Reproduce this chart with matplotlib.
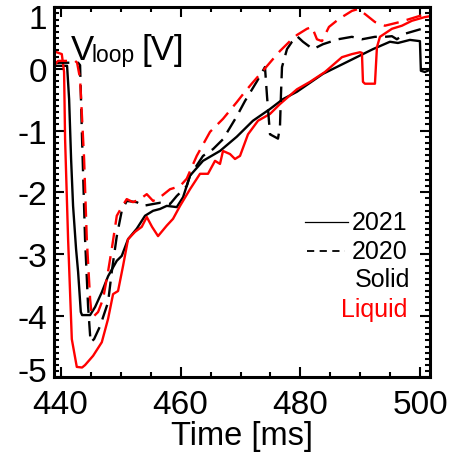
import matplotlib
matplotlib.use("Agg")
import matplotlib.pyplot as plt
from matplotlib.transforms import ScaledTranslation
from matplotlib.ticker import MultipleLocator

plt.rcParams['font.family'] = ['Liberation Sans', 'DejaVu Sans']
plt.rcParams['axes.unicode_minus'] = False

# ---- data ----
t_liq21 = [438.75, 440.2, 440.58, 440.75, 441.25, 441.87, 442.7, 443.58, 444.08, 445.42,
           446.87, 447.92, 448.75, 449.58, 450.42, 451.25, 452.42, 453.53, 454.37, 455.25,
           456.25, 457.7, 458.75, 459.92, 461.58, 463.25, 464.58, 465.75, 466.58, 467.08,
           468.25, 469.08, 469.92, 471.25, 472.92, 474.92, 476.58, 479.42, 481.58, 484.08,
           486.92, 488.58, 489.92, 490.25, 490.42, 490.75, 492.42, 492.75, 493.25, 495.25,
           496.92, 498.58, 500.75, 501.92]
v_liq21 = [0.29, 0.24, -0.05, -1.14, -2.76, -4.38, -4.83, -4.84, -4.8, -4.65,
           -4.43, -4.05, -3.65, -3.6, -3.19, -2.76, -2.64, -2.56, -2.4, -2.56,
           -2.71, -2.54, -2.43, -2.22, -1.95, -1.7, -1.7, -1.49, -1.54, -1.33,
           -1.38, -1.46, -1.41, -1.06, -0.84, -0.73, -0.57, -0.33, -0.21, -0.05,
           0.19, 0.24, 0.27, 0.26, -0.21, -0.24, -0.24, 0.35, 0.52, 0.65,
           0.7, 0.78, 0.84, 0.86]

t_sol21 = [438.9, 441.08, 441.42, 441.75, 442.08, 442.58, 442.92, 443.37, 443.58, 444.92,
           445.75, 446.87, 447.92, 449.37, 450.2, 451.25, 452.7, 454.08, 455.42, 456.58,
           457.7, 459.37, 460.42, 461.58, 463.75, 466.58, 469.37, 472.08, 474.92, 477.08,
           479.42, 483.75, 489.37, 492.08, 494.92, 496.25, 498.25, 499.92, 500.08, 500.75,
           501.92]
v_sol21 = [0.05, 0.05, -0.49, -1.46, -2.22, -2.92, -3.29, -3.94, -3.99, -3.99,
           -3.86, -3.62, -3.36, -3.11, -3.03, -2.76, -2.59, -2.38, -2.3, -2.27,
           -2.22, -2.24, -2.08, -1.73, -1.49, -1.33, -1.1, -0.84, -0.65, -0.49,
           -0.37, -0.08, 0.19, 0.32, 0.44, 0.42, 0.47, 0.45, -0.03, -0.05,
           0.0]

t_sol20 = [438.9, 442.92, 443.25, 443.58, 444.08, 444.58, 445.0, 445.58, 446.58, 447.92,
           448.53, 449.37, 450.2, 451.03, 452.7, 453.75, 455.42, 456.58, 458.25, 459.37,
           461.03, 461.58, 463.75, 465.42, 467.08, 469.37, 470.75, 472.75, 474.08, 474.42,
           474.92, 476.25, 476.58, 476.75, 476.92, 477.75, 478.58, 479.42, 480.42, 482.08,
           483.75, 486.25, 488.58, 490.25, 492.42, 494.08, 495.25, 496.08, 497.42, 500.25,
           501.92]
v_sol20 = [0.1, 0.1, 0.06, -1.14, -2.76, -3.84, -4.43, -4.38, -4.17, -3.78,
           -3.29, -2.71, -2.3, -2.14, -2.16, -2.22, -2.19, -2.17, -2.19, -2.06,
           -1.9, -1.73, -1.41, -1.3, -1.14, -0.77, -0.52, -0.2, 0.03, -0.44,
           -1.06, -1.13, -0.94, -0.41, 0.03, 0.32, 0.44, 0.53, 0.44, 0.32,
           0.4, 0.48, 0.52, 0.48, 0.52, 0.52, 0.53, 0.48, 0.57, 0.65,
           0.69]

t_liq20 = [438.9, 439.58, 442.42, 442.75, 443.25, 443.92, 444.37, 444.92, 445.2, 445.42,
           446.25, 447.08, 447.92, 448.53, 449.37, 450.2, 451.03, 452.08, 453.25, 454.37,
           455.42, 456.58, 458.25, 459.92, 461.03, 462.7, 464.92, 467.08, 469.37, 470.42,
           471.87, 473.75, 475.42, 476.58, 478.25, 479.42, 481.08, 481.92, 482.75, 483.58,
           484.75, 486.42, 488.58, 489.58, 490.75, 492.42, 494.08, 496.58, 498.25, 499.92,
           501.92]
v_liq20 = [0.05, 0.13, 0.13, 0.1, -0.16, -1.46, -2.76, -3.73, -4.0, -4.02,
           -3.94, -3.73, -3.28, -2.92, -2.38, -2.24, -2.11, -2.16, -2.11, -2.03,
           -2.14, -2.08, -1.95, -1.9, -1.78, -1.41, -1.02, -0.81, -0.54, -0.41,
           -0.24, -0.03, 0.16, 0.29, 0.45, 0.55, 0.65, 0.68, 0.48, 0.45,
           0.68, 0.81, 0.94, 0.97, 0.89, 0.76, 0.7, 0.76, 0.81, 0.86,
           0.92]

x_ticks = [440, 460, 480, 500]
y_ticks = [-5, -4, -3, -2, -1, 0, 1]
legend_years = ['2021', '2020']
legend_kinds = ['Solid', 'Liquid']

# ---- figure ----
fig = plt.figure(figsize=(4.49, 4.64), dpi=100)
ax = fig.add_axes([54 / 449, 1 - 378.4 / 464, 376 / 449, 370.2 / 464])

RED = '#ff0000'
lw = 1.7
dash = (6.5, 3.5)
ax.plot(t_sol21, v_sol21, color='black', lw=lw)
ax.plot(t_liq21, v_liq21, color=RED, lw=lw)
ax.plot(t_sol20, v_sol20, color='black', lw=lw, linestyle=(0, dash))
ax.plot(t_liq20, v_liq20, color=RED, lw=lw, linestyle=(0, dash))

ax.set_xlim(438.9, 501.6)
ax.set_ylim(-5.0, 1.0)
ax.set_xticks(x_ticks)
ax.set_yticks(y_ticks)
ax.xaxis.set_minor_locator(MultipleLocator(5))
ax.yaxis.set_minor_locator(MultipleLocator(0.1))
ax.tick_params(which='both', direction='in', top=True, right=True, width=1.5,
               labelsize=24)
ax.tick_params(which='major', length=7)
ax.tick_params(which='minor', length=3.5)
ax.tick_params(axis='x', which='major', pad=8)
ax.tick_params(axis='y', which='major', pad=5)
for s in ax.spines.values():
    s.set_linewidth(2.2)

ax.set_xlabel('Time [ms]', fontsize=23.5, labelpad=0)

# shift end labels inward like the reference
fig.canvas.draw()
for lab in ax.get_yticklabels():
    txt = lab.get_text()
    if txt == '1':
        lab.set_transform(lab.get_transform() + ScaledTranslation(0, -0.09, fig.dpi_scale_trans))
    elif txt == '-5':
        lab.set_transform(lab.get_transform() + ScaledTranslation(0, 0.08, fig.dpi_scale_trans))

# V_loop label
ax.text(0.046, 0.860, 'V', transform=ax.transAxes, fontsize=25, ha='left', va='baseline')
ax.text(0.100, 0.854, 'loop', transform=ax.transAxes, fontsize=16.5, ha='left', va='baseline')
ax.text(0.232, 0.860, '[V]', transform=ax.transAxes, fontsize=25, ha='left', va='baseline')

# custom legend
ax.plot([0.668, 0.782], [0.4206, 0.4206], transform=ax.transAxes, color='black', lw=0.9)
ax.plot([0.673, 0.774], [0.3414, 0.3414], transform=ax.transAxes, color='black', lw=1.3,
        linestyle=(0, (4, 3)))
ax.text(0.939, 0.4206, legend_years[0], transform=ax.transAxes, fontsize=18, ha='right', va='center')
ax.text(0.939, 0.3414, legend_years[1], transform=ax.transAxes, fontsize=18, ha='right', va='center')
ax.text(0.947, 0.2658, legend_kinds[0], transform=ax.transAxes, fontsize=18, ha='right', va='center')
ax.text(0.939, 0.1848, legend_kinds[1], transform=ax.transAxes, fontsize=18, ha='right', va='center',
        color=RED)

fig.savefig('out.png', dpi=100)
